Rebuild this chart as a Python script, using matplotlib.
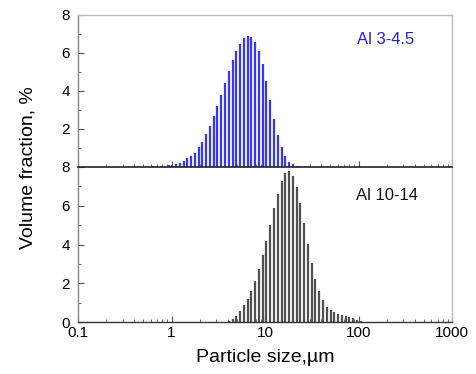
import matplotlib
matplotlib.use("Agg")
import matplotlib.pyplot as plt
from matplotlib.ticker import FixedLocator, LogLocator, NullFormatter

plt.rcParams['font.family'] = ['Liberation Sans', 'DejaVu Sans']

# bin centres (um)
sizes = [0.3673, 0.4030, 0.4421, 0.4851, 0.5322, 0.5839, 0.6406, 0.7029, 0.7711, 0.8467,
         0.9290, 1.019, 1.118, 1.227, 1.346, 1.477, 1.621, 1.778, 1.951, 2.141,
         2.350, 2.578, 2.829, 3.104, 3.406, 3.736, 4.100, 4.498, 4.935, 5.415,
         5.943, 6.520, 7.154, 7.849, 8.612, 9.452, 10.37, 11.38, 12.49, 13.70,
         15.03, 16.50, 18.10, 19.86, 21.79, 23.91, 26.23, 28.79, 31.58, 34.65,
         38.02, 41.72, 45.78, 50.22, 55.10, 60.46, 66.34, 72.79, 79.86, 87.63,
         96.16, 105.5]

vol_al_3_45 = [0.01, 0.01, 0.01, 0.01, 0.01, 0.02, 0.03, 0.04, 0.05, 0.07,
               0.10, 0.13, 0.17, 0.23, 0.32, 0.46, 0.58, 0.76, 1.05, 1.32,
               1.74, 2.14, 2.66, 3.21, 3.79, 4.42, 5.03, 5.61, 6.08, 6.49,
               6.77, 6.91, 6.84, 6.58, 6.08, 5.44, 4.54, 3.54, 2.54, 1.68,
               1.03, 0.56, 0.28, 0.14, 0.07, 0.04, 0.02, 0, 0, 0,
               0, 0, 0, 0, 0, 0, 0, 0, 0, 0,
               0, 0]

vol_al_10_14 = [0, 0, 0, 0, 0, 0, 0, 0, 0, 0,
                0, 0, 0, 0, 0, 0, 0, 0, 0, 0,
                0, 0, 0, 0, 0, 0, 0.03, 0.14, 0.31, 0.55,
                0.88, 1.20, 1.59, 2.11, 2.71, 3.46, 4.18, 5.01, 5.87, 6.62,
                7.29, 7.69, 7.81, 7.56, 6.98, 6.13, 5.10, 4.04, 3.04, 2.21,
                1.59, 1.14, 0.80, 0.61, 0.52, 0.40, 0.35, 0.29, 0.24, 0.19,
                0.10, 0.04]

x_ticks = [0.1, 1, 10, 100, 1000]
x_tick_labels = ['0.1', '1', '10', '100', '1000']
y_ticks = [0, 2, 4, 6, 8]
label_top = 'Al 3-4.5'
label_bottom = 'Al 10-14'

W, H = 476, 374
fig = plt.figure(figsize=(W / 100, H / 100), dpi=100)
left = 78 / W
width = 374 / W
ax_top = fig.add_axes([left, (H - 167) / H, width, 152 / H])
ax_bot = fig.add_axes([left, (H - 322) / H, width, 155 / H])


def draw(ax, vals, color, lw):
    xs = [s for s, v in zip(sizes, vals) if v > 0]
    ys = [v for v in vals if v > 0]
    ax.vlines(xs, 0, ys, colors=color, linewidth=lw)
    ax.set_xscale('log')
    ax.set_xlim(0.1, 1000)
    ax.set_ylim(0, 8)
    ax.xaxis.set_major_locator(FixedLocator(x_ticks))
    ax.xaxis.set_minor_locator(LogLocator(base=10, subs=range(2, 10)))
    ax.xaxis.set_minor_formatter(NullFormatter())
    ax.yaxis.set_major_locator(FixedLocator(y_ticks))
    ax.yaxis.set_minor_locator(FixedLocator([1, 3, 5, 7]))
    ax.tick_params(which='both', direction='in', top=False, right=False,
                   labelsize=11, color='#555555')
    ax.tick_params(which='major', length=4, width=0.8)
    ax.tick_params(which='minor', length=2.5, width=0.6)
    ax.tick_params(axis='y', pad=6)
    ax.tick_params(axis='x', pad=3)
    for side in ['top', 'right']:
        ax.spines[side].set_color('#bbbbbb')
        ax.spines[side].set_linewidth(1.0)
    ax.spines['left'].set_color('#888888')
    ax.spines['left'].set_linewidth(1.0)
    ax.spines['bottom'].set_color('#333333')
    ax.spines['bottom'].set_linewidth(1.0)


draw(ax_top, vol_al_3_45, '#3535ff', 1.6)
draw(ax_bot, vol_al_10_14, '#505050', 1.6)

ax_top.set_xticklabels([])
ax_top.set_yticklabels(['', '2', '4', '6', '8'])
ax_top.spines['bottom'].set_visible(False)
ax_bot.spines['top'].set_color('#222222')
ax_bot.spines['top'].set_linewidth(1.2)
ax_bot.set_xticklabels(x_tick_labels)
ax_bot.set_yticklabels([str(t) for t in y_ticks])

ax_top.text(0.746, 0.842, label_top, transform=ax_top.transAxes, color='#2222ee',
            fontsize=12, ha='left', va='center')
ax_bot.text(0.743, 0.819, label_bottom, transform=ax_bot.transAxes, color='#111111',
            fontsize=12, ha='left', va='center')

ax_bot.set_xlabel('Particle size,\u00b5m', fontsize=14, labelpad=6)
fig.text(28 / W, (H - 168) / H, 'Volume fraction, %', rotation=90, fontsize=14,
         ha='center', va='center')

fig.savefig('out.png', dpi=100)
